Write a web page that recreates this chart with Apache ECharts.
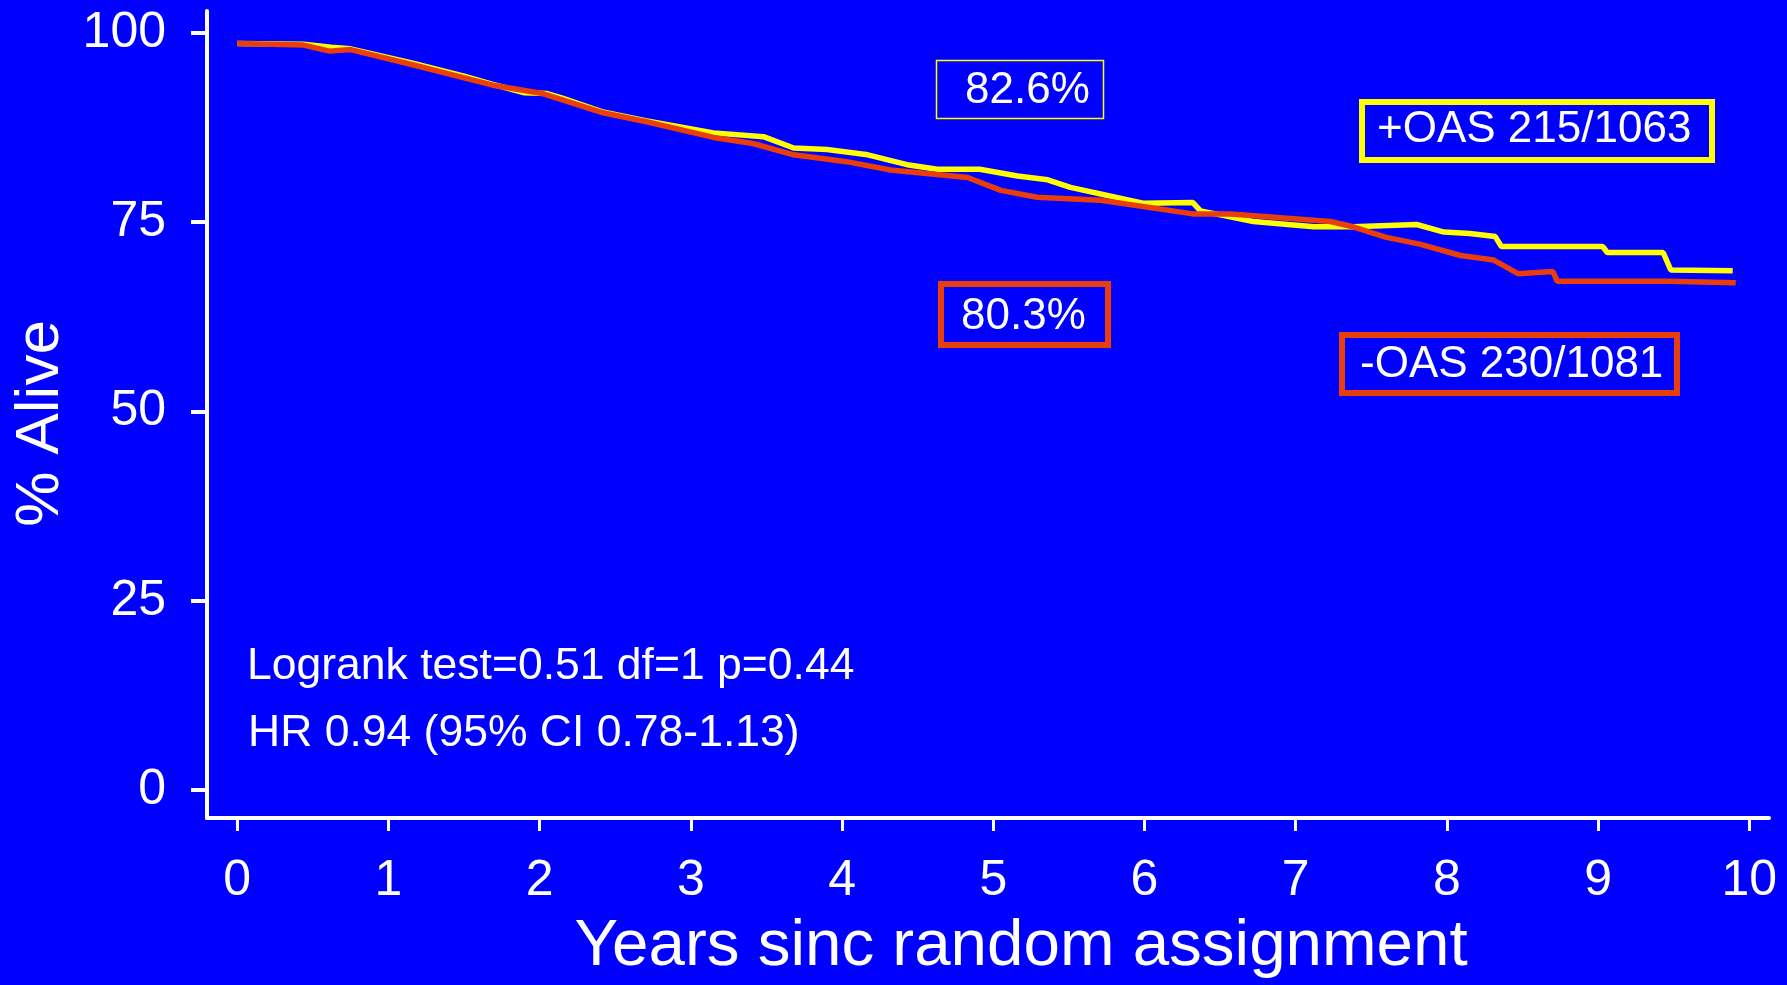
<!DOCTYPE html>
<html>
<head>
<meta charset="utf-8">
<script src="https://cdn.jsdelivr.net/npm/echarts@6/dist/echarts.min.js"></script>
<style>
html,body{margin:0;padding:0;background:#0000FF;}
#chart{width:1787px;height:985px;}
</style>
</head>
<body>
<div id="chart"></div>
<script>
// ---- data ----
const xTicks = [0,1,2,3,4,5,6,7,8,9,10];
const yTicks = [0,25,50,75,100];

const plusYears  = [0,0.44,0.62,0.75,1.16,1.5,1.69,1.9,2.05,2.15,2.41,2.7,3.15,3.48,3.68,3.9,4.17,4.43,4.63,4.91,5.16,5.36,5.51,5.99,6.32,6.37,6.72,7.12,7.38,7.8,7.98,8.15,8.32,8.36,9.03,9.06,9.43,9.48,9.89];
const plusAlive  = [98.6,98.5,98.1,97.9,96.0,94.3,93.2,92.1,92.0,91.4,89.6,88.4,86.8,86.3,84.8,84.6,83.9,82.6,82.0,82.0,81.1,80.6,79.6,77.5,77.6,76.5,75.1,74.4,74.4,74.7,73.7,73.5,73.1,71.8,71.8,71.0,71.0,68.7,68.6];

const minusYears = [0,0.44,0.61,0.75,1.16,1.69,2.02,2.41,2.7,3.15,3.41,3.68,4.03,4.32,4.83,5.05,5.29,5.71,6.32,6.57,6.9,7.23,7.38,7.6,7.82,8.09,8.31,8.47,8.7,8.73,9.46,9.91];
const minusAlive = [98.6,98.4,97.6,97.8,95.8,93.1,92.0,89.5,88.3,86.2,85.4,83.9,83.0,81.9,80.9,79.2,78.3,77.9,76.1,76.1,75.6,75.1,74.4,73.0,72.1,70.6,70.0,68.2,68.5,67.2,67.2,67.0];

const seriesNames = ['+OAS', '-OAS'];
const boxLabels = ['82.6%', '+OAS 215/1063', '80.3%', '-OAS 230/1081'];
const statLines = ['Logrank test=0.51 df=1 p=0.44', 'HR 0.94 (95% CI 0.78-1.13)'];
const xTitle = 'Years sinc random assignment';
const yTitle = '% Alive';

// ---- chart ----
const FONT = '"Liberation Sans", Arial, sans-serif';
const YEL = '#FFFF00';
const RED = '#EA3E0A';
const zip = (a, b) => a.map((v, i) => [v, b[i]]);

const chart = echarts.init(document.getElementById('chart'), null, {renderer: 'canvas'});

function boxGroup(x, y, w, h, color, lw, label, tx, ty) {
  return [
    {type: 'rect', shape: {x: x, y: y, width: w, height: h}, style: {fill: 'none', stroke: color, lineWidth: lw}, z: 10},
    {type: 'text', x: tx, y: ty, style: {text: label, fill: '#fff', font: '44px ' + FONT, textVerticalAlign: 'middle', textAlign: 'left'}, z: 11}
  ];
}

const option = {
  backgroundColor: '#0000FF',
  animation: false,
  grid: {left: 207, right: 18, top: 11, bottom: 165, containLabel: false},
  xAxis: {
    type: 'value', min: -0.2, max: 10.13,
    splitLine: {show: false},
    axisLine: {onZero: false, lineStyle: {color: '#fff', width: 4}},
    axisTick: {show: true, customValues: xTicks, length: 13, lineStyle: {color: '#fff', width: 3}},
    axisLabel: {customValues: xTicks, color: '#fff', fontSize: 50, fontFamily: FONT, margin: 38},
    name: xTitle, nameLocation: 'middle', nameGap: 96,
    nameTextStyle: {color: '#fff', fontSize: 65.5, fontFamily: FONT, padding: [0, 0, 0, 66]}
  },
  yAxis: {
    type: 'value', min: -3.7, max: 102.9,
    splitLine: {show: false},
    axisLine: {onZero: false, lineStyle: {color: '#fff', width: 4}},
    axisTick: {show: true, customValues: yTicks, length: 16, lineStyle: {color: '#fff', width: 4}},
    axisLabel: {customValues: yTicks, color: '#fff', fontSize: 50, fontFamily: FONT, margin: 41},
    name: yTitle, nameLocation: 'middle', nameGap: 135, nameRotate: 90,
    nameTextStyle: {color: '#fff', fontSize: 62, fontFamily: FONT, padding: [0, 18, 0, 0]}
  },
  series: [
    {name: seriesNames[0], type: 'line', data: zip(plusYears, plusAlive), showSymbol: false, symbol: 'none',
     lineStyle: {color: YEL, width: 5.5}, itemStyle: {color: YEL}, z: 2},
    {name: seriesNames[1], type: 'line', data: zip(minusYears, minusAlive), showSymbol: false, symbol: 'none',
     lineStyle: {color: RED, width: 5.5}, itemStyle: {color: RED}, z: 3}
  ],
  graphic: [
    ...boxGroup(936.5, 60.5, 167, 58, YEL, 1.5, boxLabels[0], 965, 91),
    ...boxGroup(1362, 102, 350, 58, YEL, 6, boxLabels[1], 1377, 130),
    ...boxGroup(941, 284, 167, 61, RED, 6, boxLabels[2], 961, 317),
    ...boxGroup(1342, 335, 335, 58, RED, 6, boxLabels[3], 1360, 365),
    {type: 'text', x: 247, y: 667, style: {text: statLines[0], fill: '#fff', font: '44.5px ' + FONT, textVerticalAlign: 'middle'}, z: 11},
    {type: 'text', x: 248, y: 734, style: {text: statLines[1], fill: '#fff', font: '44.5px ' + FONT, textVerticalAlign: 'middle'}, z: 11}
  ]
};
chart.setOption(option);
</script>
</body>
</html>
